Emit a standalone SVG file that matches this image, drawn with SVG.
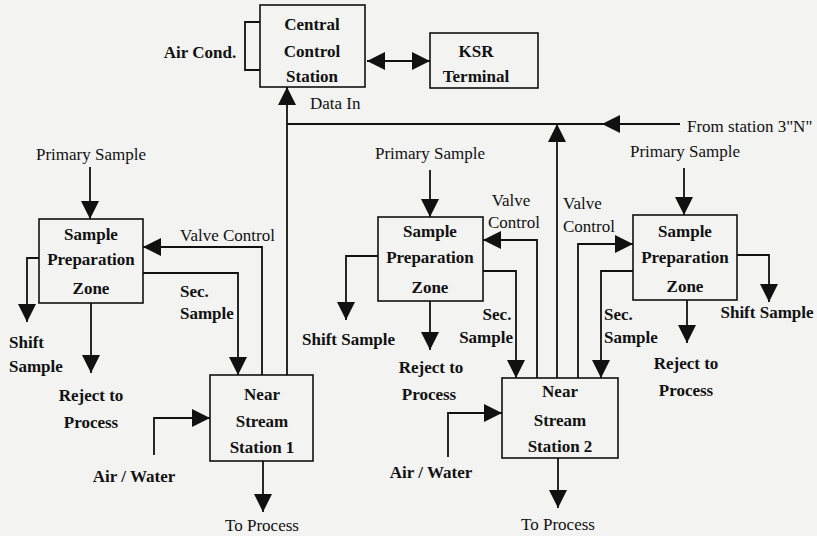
<svg xmlns="http://www.w3.org/2000/svg" width="817" height="536" viewBox="0 0 817 536" font-family="'Liberation Serif', 'DejaVu Serif', serif">
<style>
text{font-family:'Liberation Serif','DejaVu Serif',serif;font-size:17px;fill:#111}
.b{font-weight:bold}
.m{text-anchor:middle}
.box{fill:none;stroke:#111;stroke-width:1.6}
.ln{fill:none;stroke:#111;stroke-width:1.8}
.ar{marker-end:url(#ah)}
</style>
<defs>
<marker id="ah" markerWidth="18" markerHeight="18" refX="18" refY="9" orient="auto-start-reverse" markerUnits="userSpaceOnUse">
<path d="M0,0 L18,9 L0,18 z" fill="#111"/>
</marker>
</defs>
<rect width="817" height="536" fill="#f3f3f1"/>

<g id="connectors">
<line class="ln" x1="367" y1="61" x2="430" y2="61" marker-start="url(#ah)" marker-end="url(#ah)"/>
<line class="ln ar" x1="287" y1="375" x2="287" y2="87"/>
<line class="ln" x1="287" y1="124" x2="602" y2="124"/>
<line class="ln ar" x1="680" y1="124" x2="602" y2="124"/>
<line class="ln ar" x1="90" y1="167" x2="90" y2="219"/>
<polyline class="ln ar" points="262,375 262,247 143,247"/>
<polyline class="ln ar" points="143,273 238,273 238,375"/>
<polyline class="ln ar" points="39,258 27,258 27,322"/>
<line class="ln ar" x1="91" y1="303" x2="91" y2="373"/>
<polyline class="ln ar" points="154,455 154,418 210,418"/>
<line class="ln ar" x1="263" y1="461" x2="263" y2="512"/>
<line class="ln ar" x1="430" y1="170" x2="430" y2="217"/>
<polyline class="ln ar" points="537,378 537,240 483,240"/>
<polyline class="ln ar" points="483,271 516,271 516,378"/>
<polyline class="ln ar" points="378,256 346,256 346,320"/>
<line class="ln ar" x1="430" y1="301" x2="430" y2="350"/>
<polyline class="ln ar" points="448,457 448,413 502,413"/>
<line class="ln ar" x1="558" y1="458" x2="558" y2="508"/>
<line class="ln ar" x1="557" y1="378" x2="557" y2="124"/>
<line class="ln ar" x1="684" y1="168" x2="684" y2="215"/>
<polyline class="ln ar" points="578,378 578,244 633,244"/>
<polyline class="ln ar" points="633,271 601,271 601,378"/>
<polyline class="ln ar" points="737,255 769,255 769,302"/>
<line class="ln ar" x1="687" y1="300" x2="687" y2="343"/>
</g>

<g id="central-control">
<rect class="box" x="260" y="5" width="105" height="82"/>
<path class="ln" d="M260,22 H245 V70 H260"/>
<text class="b m" x="312" y="30">Central</text>
<text class="b m" x="312" y="57">Control</text>
<text class="b m" x="312" y="82">Station</text>
</g>
<g id="air-cond"><text class="b m" x="200" y="58">Air Cond.</text></g>
<g id="ksr-terminal">
<rect class="box" x="430" y="33" width="108" height="55"/>
<text class="b m" x="476" y="57">KSR</text>
<text class="b m" x="476" y="82">Terminal</text>
</g>
<g id="labels-top">
<text x="310" y="109">Data In</text>
<text x="687" y="132">From station 3"N"</text>
</g>

<g id="spz1">
<rect class="box" x="39" y="219" width="104" height="84"/>
<text class="b m" x="91" y="240">Sample</text>
<text class="b m" x="91" y="265">Preparation</text>
<text class="b m" x="91" y="294">Zone</text>
</g>
<g id="nss1">
<rect class="box" x="210" y="375" width="103" height="86"/>
<text class="b m" x="262" y="400">Near</text>
<text class="b m" x="262" y="427">Stream</text>
<text class="b m" x="262" y="453">Station 1</text>
</g>
<g id="labels-left">
<text class="m" x="91" y="160">Primary Sample</text>
<text x="180" y="241">Valve Control</text>
<text class="b" x="180" y="297">Sec.</text>
<text class="b" x="180" y="319">Sample</text>
<text class="b" x="9" y="348">Shift</text>
<text class="b" x="9" y="372">Sample</text>
<text class="b m" x="91" y="401">Reject to</text>
<text class="b m" x="91" y="428">Process</text>
<text class="b m" x="134" y="482">Air / Water</text>
<text class="m" x="262" y="531">To Process</text>
</g>

<g id="spz2">
<rect class="box" x="378" y="217" width="105" height="84"/>
<text class="b m" x="430" y="237">Sample</text>
<text class="b m" x="430" y="263">Preparation</text>
<text class="b m" x="430" y="293">Zone</text>
</g>
<g id="nss2">
<rect class="box" x="502" y="378" width="116" height="80"/>
<text class="b m" x="560" y="397">Near</text>
<text class="b m" x="560" y="426">Stream</text>
<text class="b m" x="560" y="452">Station 2</text>
</g>
<g id="labels-middle">
<text class="m" x="430" y="159">Primary Sample</text>
<text class="m" x="511" y="206">Valve</text>
<text class="m" x="514" y="228">Control</text>
<text class="b m" x="497" y="320">Sec.</text>
<text class="b" x="513" y="343" text-anchor="end">Sample</text>
<text class="b" x="302" y="345">Shift Sample</text>
<text class="b m" x="431" y="373">Reject to</text>
<text class="b m" x="429" y="400">Process</text>
<text class="b m" x="431" y="478">Air / Water</text>
<text class="m" x="558" y="530">To Process</text>
</g>

<g id="spz3">
<rect class="box" x="633" y="215" width="104" height="85"/>
<text class="b m" x="685" y="237">Sample</text>
<text class="b m" x="685" y="263">Preparation</text>
<text class="b m" x="685" y="292">Zone</text>
</g>
<g id="labels-right">
<text class="m" x="685" y="157">Primary Sample</text>
<text x="563" y="209">Valve</text>
<text x="563" y="232">Control</text>
<text class="b" x="604" y="320">Sec.</text>
<text class="b" x="604" y="343">Sample</text>
<text class="b m" x="767" y="318">Shift Sample</text>
<text class="b m" x="686" y="369">Reject to</text>
<text class="b m" x="686" y="396">Process</text>
</g>
</svg>
